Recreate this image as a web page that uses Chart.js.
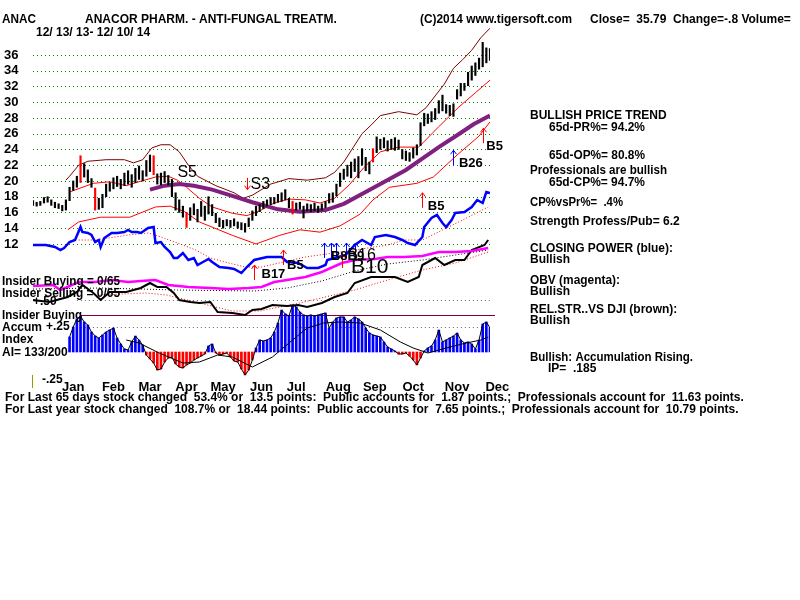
<!DOCTYPE html>
<html>
<head>
<meta charset="utf-8">
<script src="https://cdn.jsdelivr.net/npm/chart.js@4.4.0/dist/chart.umd.min.js"></script>
<style>body{margin:0;background:#fff}canvas{display:block}</style>
</head>
<body>
<canvas id="c" width="800" height="600"></canvas>
<script>
// x = trading day index, 0 = 12/13/13 ... 250 = 12/10/14
var barDays = [0,2,4,6,8,10,12,14,16,18,20,22,24,26,28,30,32,34,36,38,40,42,44,46,48,50,52,54,56,58,60,62,64,66,68,70,72,74,76,78,80,82,84,86,88,90,92,94,96,98,100,102,104,106,108,110,112,114,116,118,120,122,124,126,128,130,132,134,136,138,140,142,144,146,148,150,152,154,156,158,160,162,164,166,168,170,172,174,176,178,180,182,184,186,188,190,192,194,196,198,200,202,204,206,208,210,212,214,216,218,220,222,224,226,228,230,232,234,236,238,240,242,244,246,248,250];
var priceLow = [16.9,16.8,16.9,17.2,17.3,16.9,16.6,16.5,16.2,16.3,17.5,18.8,19.2,19.8,20.5,19.8,19.2,16.3,16.4,16.6,18.0,18.7,19.0,19.3,19.0,19.4,19.6,19.2,19.8,20.2,20.0,20.6,21.2,20.8,19.6,19.5,19.8,19.5,18.0,16.3,16.0,15.4,14.1,15.0,15.7,14.8,15.5,15.0,15.8,15.6,14.7,14.2,14.0,14.3,14.1,14.3,14.0,13.8,13.5,14.2,15.0,15.6,16.1,16.5,16.8,17.0,17.1,17.3,17.4,17.6,16.6,15.8,16.3,16.4,15.3,16.2,16.1,16.2,16.0,16.3,16.6,17.2,17.3,18.1,19.3,20.2,20.6,20.4,21.2,20.4,22.0,21.3,20.9,22.4,23.6,24.0,24.2,23.8,24.0,23.9,24.0,22.8,22.6,22.5,22.9,23.3,24.5,27.0,27.3,27.5,27.8,28.6,28.9,28.6,28.3,28.2,30.4,30.8,31.5,32.1,32.8,33.4,34.2,34.5,35.0,35.3];
var priceHigh = [17.5,17.3,17.4,17.9,18.0,17.6,17.3,17.1,16.9,17.6,19.2,20.0,20.6,23.2,22.2,21.4,20.3,19.1,17.8,18.3,19.6,19.8,20.4,20.6,20.2,21.0,21.3,20.8,21.6,21.9,21.3,22.6,23.3,23.2,20.9,21.0,21.2,20.7,20.2,18.5,17.6,16.8,16.0,16.6,17.1,16.4,17.4,16.8,18.0,17.0,15.9,15.3,15.0,15.1,15.0,15.2,14.8,14.7,14.6,15.3,16.2,16.8,17.0,17.4,17.6,17.9,17.9,18.3,18.5,18.9,17.8,17.4,17.2,17.3,16.8,17.1,17.0,17.2,16.8,17.1,17.4,18.4,18.5,19.6,21.0,21.5,22.0,22.4,22.8,23.1,24.1,23.0,22.4,24.1,25.6,25.3,25.5,25.1,25.3,25.5,25.2,24.0,23.8,23.6,24.2,24.6,27.4,28.6,28.5,28.8,29.2,30.2,30.9,29.7,29.6,29.8,31.6,32.4,32.4,33.8,34.6,35.0,35.6,37.6,36.9,36.8];
var redBarDays = [26,34,66,84,142,186];

var upperDays = [18,20,25,30,40,50,55,60,65,70,75,80,85,90,100,110,115,120,130,140,150,160,165,170,175,180,185,190,200,210,215,220,225,230,235,240,245,250];
var upperVals = [20.1,20.6,22.0,22.5,22.7,22.7,22.3,22.7,24.2,24.6,24.6,23.7,22.0,20.6,19.4,18.5,17.8,18.2,19.6,20.3,20.1,20.4,21.1,22.4,24.2,26.0,27.1,28.3,28.8,28.4,29.3,30.8,32.3,34.3,35.4,36.6,38.2,39.4];
var midDays = [20,33,42,51,58,67,74,79,84,91,98,109,117,124,132,140,149,157,165,173,181,190,200,211,222,233,242,250];
var midVals = [18.6,19.7,19.9,19.4,19.9,20.5,20.6,20.1,19.2,17.8,16.7,15.9,15.6,16.2,17.2,17.7,17.6,17.2,17.8,19.5,21.7,23.7,24.3,24.3,26.9,29.4,31.2,32.8];
var lowerDays = [19,25,37,53,67,75,83,91,109,122,135,146,157,168,179,186,195,210,219,232,244,250];
var lowerVals = [13.8,14.8,15.4,15.4,16.7,16.8,16.1,14.8,13.1,12.0,13.1,13.8,13.5,14.3,15.8,17.6,19.2,19.7,20.5,23.3,25.7,27.5];
var maDays = [64,72,80,88,98,109,120,134,146,160,170,186,204,222,232,241,250];
var maVals = [18.9,19.4,19.6,19.4,18.9,18.1,17.3,16.4,16.1,16.3,17.1,19.1,21.4,24.3,25.8,27.2,28.3];

// closing power (blue) and its red dotted average
var cpDays = [0,7,12,15,17,20,23,26,27,30,32,34,36,37,39,43,46,50,52,54,57,59,63,66,67,70,72,75,77,79,82,85,88,90,93,96,98,102,107,110,114,117,121,128,136,139,145,150,156,160,161,165,171,176,180,185,187,193,198,202,205,209,213,214,218,221,224,226,229,231,236,240,243,246,248,250];
var cpVals = [25,25,23,20,22,28,30,43,38,37,35,28,30,23,32,37,37,38,40,38,38,37,42,43,27,28,23,18,12,12,17,10,12,5,8,11,8,3,2,1,-3,3,10,13,13,8,7,2,2,5,10,12,15,25,30,25,33,35,33,30,27,25,33,43,52,55,47,43,50,57,58,63,70,67,78,77];
var cpMaDays = [25,34,45,52,63,70,79,89,97,107,116,125,149,176,194,203,213,224,235,249];
var cpMaVals = [30,30,33,35,37,33,27,20,12,7,3,3,13,20,25,30,30,40,50,63];

// OBV (magenta) and black dotted average
var obvDays = [0,11,15,25,34,43,52,59,67,74,85,97,107,118,125,132,139,149,158,169,176,187,194,203,213,222,231,240,249];
var obvVals = [14,15,10,18,18,20,18,19,20,15,13,12,11,12,13,18,20,23,28,37,40,41,43,43,44,48,48,49,52];
var obvMaDays = [0,37,79,121,139,158,176,194,213,231,249];
var obvMaVals = [11,12,10,9,12,19,29,36,40,45,50];

// relative strength vs DJI (black) and red dotted average
var rsDays = [0,9,19,24,27,33,37,42,51,59,64,68,73,77,80,86,91,97,101,109,116,120,125,131,139,145,150,158,165,172,176,185,198,205,211,213,220,225,231,236,240,247,249];
var rsVals = [20,18,23,28,35,27,20,28,28,32,37,33,33,27,20,18,17,18,8,7,5,10,11,15,14,15,13,17,23,27,37,43,43,38,43,55,62,55,60,60,70,75,80];
var rsMaDays = [37,62,73,91,109,124,146,176,194,213,231,249];
var rsMaVals = [25,27,25,17,9,9,17,30,40,50,57,68];

// accumulation index, from day 20 on
var aiVals = [.15,.25,.33,.36,.3,.27,.2,.16,.14,.17,.2,.22,.24,.14,.08,.03,.02,.1,.16,.12,.07,-.03,-.07,-.11,-.18,-.17,-.1,-.06,-.05,-.12,-.15,-.16,-.13,-.11,-.08,-.06,-.04,-.02,.06,.08,-.01,-.03,-.02,-.01,-.05,-.09,-.1,-.17,-.23,-.18,-.08,.04,.12,.11,.12,.14,.2,.29,.42,.38,.36,.47,.45,.4,.37,.36,.37,.36,.37,.38,.39,.24,.3,.34,.35,.35,.3,.32,.35,.33,.3,.24,.19,.17,.16,.15,.1,.05,.03,.01,-.02,-.02,-.01,-.04,-.08,-.13,-.06,.01,.04,.06,.12,.22,.1,.12,.14,.16,.19,.12,.09,.1,.08,.03,.12,.28,.3,.24];
var aiDays = barDays.slice(10);
var aiMaDays = [51,58,69,82,91,101,109,120,131,142,150,159,168,179,190,201,208,216,226,237,245,249];
var aiMaVals = [.12,.09,-.01,-.11,-.10,-.03,-.05,-.15,-.05,.12,.24,.29,.30,.29,.22,.10,.04,-.01,.04,.09,.12,.15];

var priceTicks = [36,34,32,30,28,26,24,22,20,18,16,14,12];
var months = ["Jan","Feb","Mar","Apr","May","Jun","Jul","Aug","Sep","Oct","Nov","Dec"];
var monthDays = [22,44,64,84,104,125,144,167,187,208,232,254];

var F = '"Liberation Sans", Arial, sans-serif';

function pts(xs, ys) { return xs.map(function (x, i) { return { x: x, y: ys[i] }; }); }
function line(xs, ys, axis, color, width, dash, order) {
    return { type: "line", data: pts(xs, ys), yAxisID: axis, borderColor: color, borderWidth: width,
        borderDash: dash || [], pointRadius: 0, tension: 0, fill: false, order: order };
}

var arrows = [
    { day: 117, axis: "price", from: 20.4, to: 18.9, color: "#ff0000" },
    { day: 121, axis: "cp", from: -10, to: 5, color: "#ff0000" },
    { day: 137, axis: "cp", from: 5, to: 20, color: "#ff0000" },
    { day: 159, axis: "cp", from: 12, to: 27, color: "#0000ff" },
    { day: 163, axis: "cp", from: 12, to: 27, color: "#0000ff" },
    { day: 166, axis: "cp", from: 12, to: 27, color: "#0000ff" },
    { day: 169, axis: "cp", from: 2, to: 16, color: "#ff0000" },
    { day: 171, axis: "cp", from: 12, to: 27, color: "#0000ff" },
    { day: 176, axis: "cp", from: 12, to: 27, color: "#0000ff" },
    { day: 213, axis: "price", from: 16.6, to: 18.5, color: "#ff0000" },
    { day: 230, axis: "price", from: 22.0, to: 23.9, color: "#0000ff" },
    { day: 246, axis: "price", from: 24.8, to: 26.7, color: "#ff0000" }
];
var signals = [
    { t: "S5", day: 79, axis: "price", at: 21.0, font: "16px " + F },
    { t: "S3", day: 119, axis: "price", at: 19.6, font: "16px " + F },
    { t: "B17", day: 125, axis: "cp", at: -4, font: "bold 13px " + F },
    { t: "B5", day: 139, axis: "cp", at: 5, font: "bold 13px " + F },
    { t: "B8B9", day: 163, axis: "cp", at: 14, font: "bold 13px " + F },
    { t: "B16", day: 172, axis: "cp", at: 14, font: "16px " + F },
    { t: "B10", day: 174, axis: "cp", at: 3, font: "21px " + F },
    { t: "B5", day: 216, axis: "price", at: 16.8, font: "bold 13px " + F },
    { t: "B26", day: 233, axis: "price", at: 22.2, font: "bold 13px " + F },
    { t: "B5", day: 248, axis: "price", at: 24.4, font: "bold 13px " + F }
];
var texts = [
    ["ANAC", 2, 20, 34], ["ANACOR PHARM. - ANTI-FUNGAL TREATM.", 85, 20, 256], ["12/ 13/ 13- 12/ 10/ 14", 36, 33, 134],
    ["(C)2014 www.tigersoft.com", 420, 20, 152], ["Close=  35.79  Change=-.8 Volume=", 590, 20, 212],
    ["Insider Buying = 0/65", 2, 282, 118], ["Insider Selling = 0/65", 2, 294, 118], ["+.50", 33, 302, 25],
    ["Insider Buying", 2, 316, 80], ["Accum", 2, 328, 40], ["+.25", 46, 327, 25], ["Index", 2, 340, 33],
    ["AI= 133/200", 2, 353, 70], ["-.25", 42, 380, 25],
    ["BULLISH PRICE TREND", 530, 116, 140], ["65d-PR%= 94.2%", 549, 128, 96], ["65d-OP%= 80.8%", 549, 156, 96],
    ["Professionals are bullish", 530, 171, 137], ["65d-CP%= 94.7%", 549, 183, 96], ["CP%vsPr%=  .4%", 530, 203, 93],
    ["Strength Profess/Pub= 6.2", 530, 222, 152], ["CLOSING POWER (blue):", 530, 249, 143], ["Bullish", 530, 260, 42],
    ["OBV (magenta):", 530, 281, 90], ["Bullish", 530, 292, 42], ["REL.STR..VS DJI (brown):", 530, 310, 148],
    ["Bullish", 530, 321, 42], ["Bullish: Accumulation Rising.", 530, 358, 163], ["IP=  .185", 548, 369, 50],
    ["For Last 65 days stock changed  53.4% or  13.5 points:  Public accounts for  1.87 points.;  Professionals account for  11.63 points.", 5, 398, 745],
    ["For Last year stock changed  108.7% or  18.44 points:  Public accounts for  7.65 points.;  Professionals account for  10.79 points.", 5, 410, 738]
];

var overlay = {
    id: "overlay",
    beforeDatasetsDraw: function (chart) {
        var ctx = chart.ctx, xs = chart.scales.x, ps = chart.scales.price, ai = chart.scales.ai;
        ctx.save();
        ctx.lineWidth = 1;
        ctx.setLineDash([1, 3]);
        ctx.strokeStyle = "#008000";
        priceTicks.forEach(function (t) {
            var y = Math.round(ps.getPixelForValue(t)) + 0.5;
            ctx.beginPath(); ctx.moveTo(xs.left, y); ctx.lineTo(xs.right, y); ctx.stroke();
        });
        ctx.strokeStyle = "#666666";
        [0.52, 0.25].forEach(function (v) {
            var y = Math.round(ai.getPixelForValue(v)) + 0.5;
            ctx.beginPath(); ctx.moveTo(xs.getPixelForValue(24), y); ctx.lineTo(xs.right, y); ctx.stroke();
        });
        ctx.setLineDash([]);
        ctx.strokeStyle = "#800040";
        var py = Math.round(ai.getPixelForValue(0.37)) + 0.5;
        ctx.beginPath(); ctx.moveTo(xs.getPixelForValue(26), py); ctx.lineTo(xs.right + 5, py); ctx.stroke();
        ctx.strokeStyle = "#999900";
        ctx.beginPath(); ctx.moveTo(32.5, ai.getPixelForValue(-0.23)); ctx.lineTo(32.5, ai.getPixelForValue(-0.36)); ctx.stroke();
        ctx.restore();
    },
    afterDatasetsDraw: function (chart) {
        var ctx = chart.ctx, xs = chart.scales.x, ps = chart.scales.price;
        ctx.save();
        ctx.fillStyle = "#000";
        ctx.textBaseline = "middle";
        ctx.font = "bold 13px " + F;
        priceTicks.forEach(function (t) { ctx.fillText(String(t), 4, ps.getPixelForValue(t)); });
        ctx.textAlign = "center";
        months.forEach(function (m, i) { ctx.fillText(m, xs.getPixelForValue(monthDays[i]), 387); });
        ctx.textAlign = "left";
        ctx.font = "bold 12px " + F;
        texts.forEach(function (t) { ctx.fillText(t[0], t[1], t[2], t[3]); });
        arrows.forEach(function (a) {
            var s = chart.scales[a.axis], x = Math.round(xs.getPixelForValue(a.day)) + 0.5;
            var y1 = s.getPixelForValue(a.from), y2 = s.getPixelForValue(a.to), d = y2 < y1 ? 1 : -1;
            ctx.strokeStyle = a.color; ctx.lineWidth = 1;
            ctx.beginPath(); ctx.moveTo(x, y1); ctx.lineTo(x, y2);
            ctx.moveTo(x - 3, y2 + 4 * d); ctx.lineTo(x, y2); ctx.lineTo(x + 3, y2 + 4 * d);
            ctx.stroke();
        });
        signals.forEach(function (s) {
            ctx.font = s.font;
            ctx.fillText(s.t, xs.getPixelForValue(s.day), chart.scales[s.axis].getPixelForValue(s.at));
        });
        ctx.restore();
    }
};

var priceBars = barDays.map(function (d, i) { return { x: d, y: [priceLow[i], priceHigh[i]] }; });

new Chart(document.getElementById("c"), {
    type: "bar",
    data: {
        datasets: [
            { type: "bar", data: priceBars, yAxisID: "price", grouped: false, barThickness: 1.5, order: 1,
              backgroundColor: barDays.map(function (d) { return redBarDays.indexOf(d) >= 0 ? "#ff0000" : "#000000"; }) },
            line(maDays, maVals, "price", "#802080", 4, null, 2),
            line(upperDays, upperVals, "price", "#800000", 1, null, 3),
            line(midDays, midVals, "price", "#ff0000", 1, null, 3),
            line(lowerDays, lowerVals, "price", "#ff0000", 1, null, 3),
            line(cpDays, cpVals, "cp", "#0000ff", 2.5, null, 4),
            line(cpMaDays, cpMaVals, "cp", "#ff0000", 1, [1, 2], 5),
            line(obvDays, obvVals, "obv", "#ff00ff", 2.5, null, 4),
            line(obvMaDays, obvMaVals, "obv", "#000000", 1, [1, 2], 5),
            line(rsDays, rsVals, "rs", "#000000", 2, null, 4),
            line(rsMaDays, rsMaVals, "rs", "#ff0000", 1, [1, 2], 5),
            { type: "bar", data: pts(aiDays, aiVals), yAxisID: "ai", grouped: false, barThickness: 2, order: 7,
              backgroundColor: aiVals.map(function (v) { return v >= 0 ? "#0000ff" : "#ff0000"; }) },
            line(aiDays, aiVals, "ai", "#000000", 1, null, 6),
            line(aiMaDays, aiMaVals, "ai", "#000000", 1, null, 6)
        ]
    },
    options: {
        responsive: false,
        animation: false,
        devicePixelRatio: 1,
        layout: { padding: { left: 33, right: 310, top: 0, bottom: 0 } },
        plugins: { legend: { display: false }, tooltip: { enabled: false } },
        scales: {
            x: { type: "linear", min: 0, max: 250, display: false, offset: false },
            price: { type: "linear", axis: "y", min: -33.21, max: 42.98, display: false },
            cp: { type: "linear", axis: "y", min: -330, max: 270, display: false },
            obv: { type: "linear", axis: "y", min: -300, max: 300, display: false },
            rs: { type: "linear", axis: "y", min: -280, max: 320, display: false },
            ai: { type: "linear", axis: "y", min: -2.48, max: 3.52, display: false }
        }
    },
    plugins: [overlay]
});
</script>
</body>
</html>
